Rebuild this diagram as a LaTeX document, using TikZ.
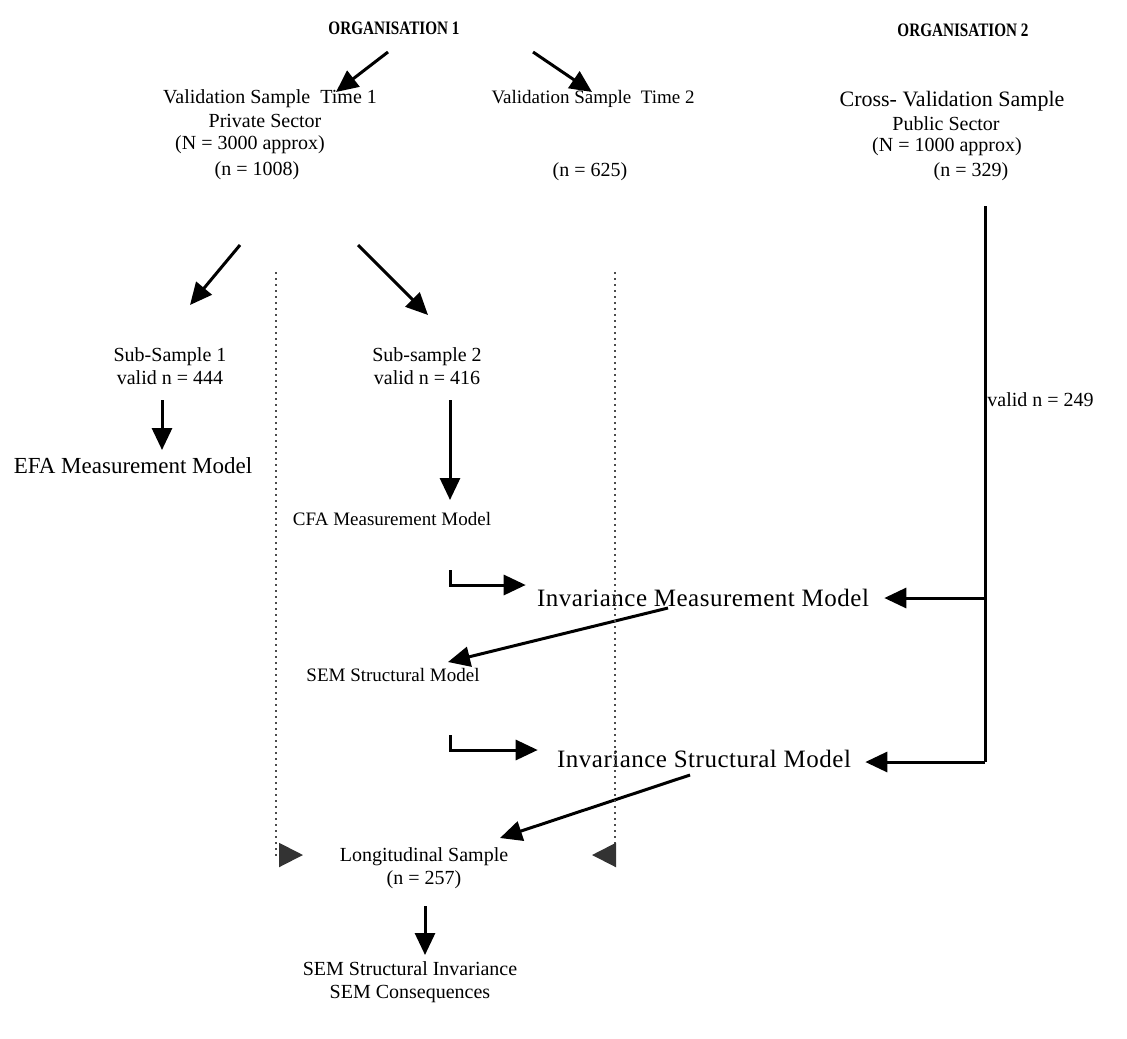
\documentclass[tikz,border=0pt]{standalone}
\usepackage{fontspec}
\setmainfont{Liberation Serif}
\usetikzlibrary{arrows.meta,calc}
\begin{document}
\begin{tikzpicture}[x=0.5pt,y=-0.5pt,
  txt/.style={inner sep=0pt,align=center,font=\fontsize{10}{11.5}\selectfont},
  sm/.style={inner sep=0pt,align=center,font=\fontsize{9.5}{11}\selectfont},
  big/.style={inner sep=0pt,align=center,font=\fontsize{11.5}{13}\selectfont},
  wide/.style={inner sep=0pt,align=center,font=\fontsize{12.5}{14}\selectfont\addfontfeature{LetterSpace=2}},
  hd/.style={inner sep=0pt,font=\fontsize{9.5}{11}\selectfont\bfseries},
  arr/.style={line width=1.5pt,-{Triangle[length=11pt,width=10pt]}},
  ln/.style={line width=1.5pt},
  dots/.style={black!70,line width=1pt,dotted,-{Triangle[length=12pt,width=12pt,color=black!80,fill=black!80]}}]
\useasboundingbox (0,0) rectangle (1127,1038);
% headings
\node[hd] (org1) at (394,28) {\scalebox{0.8}[1]{ORGANISATION 1}};
\node[hd] (org2) at (963,30) {\scalebox{0.8}[1]{ORGANISATION 2}};
% organisation 1 samples
\node[txt] (vs1) at (270,99) {Validation Sample\ \ Time 1};
\node[txt] (ps1) at (265,121) {Private Sector};
\node[txt] (N1) at (250,145) {(N = 3000 approx)};
\node[txt] (n1008) at (257,171) {(n = 1008)};
\node[sm] (vs2) at (593,99) {Validation Sample\ \ Time 2};
\node[txt] (n625) at (590,172) {(n = 625)};
% organisation 2 sample
\node[txt,font=\fontsize{11}{13}\selectfont] (cvs) at (952,101) {Cross- Validation Sample};
\node[txt] (pub) at (946,124) {Public Sector};
\node[txt] (N2) at (947,147) {(N = 1000 approx)};
\node[txt] (n329) at (971,172) {(n = 329)};
% sub-samples and models
\node[txt] (ss1) at (170,366) {Sub-Sample 1\\valid n = 444};
\node[txt] (ss2) at (427,366) {Sub-sample 2\\valid n = 416};
\node[big] (efa) at (133,466) {EFA Measurement Model};
\node[sm] (cfa) at (392,519) {CFA Measurement Model};
\node[wide] (imm) at (703,598) {Invariance Measurement Model};
\node[sm] (sem) at (393,675) {SEM Structural Model};
\node[wide] (ism) at (704,759) {Invariance Structural Model};
\node[txt] (lon) at (424,868) {Longitudinal Sample\\(n = 257)};
\node[txt] (semc) at (410,982) {SEM Structural Invariance\\SEM Consequences};
% right trunk
\coordinate (rtop) at (985,206);
\coordinate (rbot) at (985,762);
\node[txt,anchor=west] (v249) at (987,400) {valid n = 249};
% arrows
\draw[arr] ($(org1)+(-6,24)$) -- ($(vs1)+(66,-7)$);
\draw[arr] ($(org1)+(139,24)$) -- ($(vs2)+(-1,-7)$);
\draw[arr] ($(n1008)+(-17,74)$) -- ($(ss1)+(20,-61)$);
\draw[arr] ($(n1008)+(101,74)$) -- ($(ss2)+(1,-51)$);
\draw[arr] ($(ss1)+(-8,34)$) -- ($(efa)+(29,-16)$);
\draw[arr] ($(ss2)+(23,34)$) -- ($(cfa)+(58,-19)$);
\draw[arr] ($(cfa)+(58,51)$) |- ($(imm.west)+(-11,-13)$);
\draw[arr] ($(imm)+(-35,10)$) -- ($(sem)+(55,-13)$);
\draw[arr] ($(sem)+(57,60)$) |- ($(ism.west)+(-19,-9)$);
\draw[arr] ($(ism)+(-14,16)$) -- ($(lon)+(76,-30)$);
\draw[arr] ($(lon)+(1,38)$) -- ($(semc)+(15,-27)$);
\draw[ln] (rtop) -- (rbot);
\draw[arr] (rtop |- imm) -- ($(imm.east)+(15,0)$);
\draw[arr] (rbot) -- ($(rbot -| ism.east)+(14,0)$);
% dotted guides
\draw[dots] (276,272) -- (276,855) -- (303,855);
\draw[dots] (615,272) -- (615,855) -- (592,855);
\end{tikzpicture}
\end{document}
